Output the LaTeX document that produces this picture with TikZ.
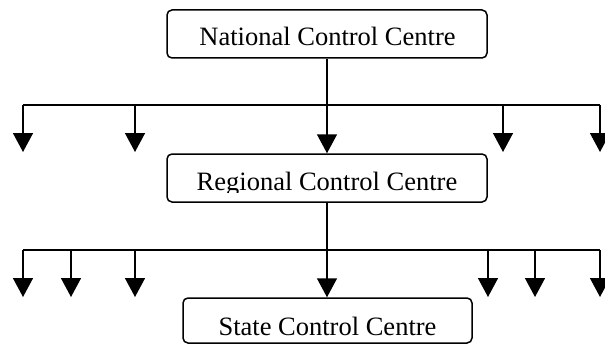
\documentclass[tikz,border=0pt]{standalone}
\usepackage{fontspec}
\setmainfont{Liberation Serif}
\usetikzlibrary{arrows.meta}
\tikzset{
  centrebox/.style={draw, line width=1.5pt, rounded corners=5pt, inner sep=0pt},
  centretext/.style={anchor=base, inner sep=0pt, font=\fontsize{26.5}{31}\selectfont},
  feed/.style={line width=1.5pt},
  down/.style={feed, -{Triangle[width=20pt,length=19pt]}}
}
\begin{document}
\begin{tikzpicture}[x=1pt,y=-1pt]
  \useasboundingbox (0,0) rectangle (605,345);
  \clip (0,0) rectangle (605,345);

  % the three control centres
  \node[centrebox, minimum width=320pt, minimum height=48pt] (ncc) at (327,34) {};
  \node[centretext] (ncctext) at (327.5,45.5) {National Control Centre};

  \node[centrebox, minimum width=320pt, minimum height=48pt] (rcc) at (327,178) {};
  \begin{scope}
    \clip (170,157) rectangle (484,192);
    \node[centretext] (rcctext) at (327,190) {Regional Control Centre};
  \end{scope}

  \node[centrebox, minimum width=289pt, minimum height=45pt] (scc) at (327.5,320.5) {};
  \node[centretext] (scctext) at (327.5,335) {State Control Centre};

  % upper distribution bus
  \coordinate (b1) at (327,105);
  \coordinate (b1l) at (23,105);
  \coordinate (b1r) at (600,105);
  \draw[feed] (ncc.south -| b1) -- (b1);
  \draw[feed] (b1l) -- (b1r);
  \foreach \x [count=\i] in {23,135,503,600} {
    \coordinate (u\i) at (\x,105);
    \coordinate (ut\i) at (\x,152);
    \draw[down] (u\i) -- (ut\i);
  }
  \draw[down] (b1) -- (rcc.north -| b1);

  % lower distribution bus
  \coordinate (b2) at (327,250);
  \coordinate (b2l) at (23,250);
  \coordinate (b2r) at (600,250);
  \draw[feed] (rcc.south -| b2) -- (b2);
  \draw[feed] (b2l) -- (b2r);
  \foreach \x [count=\i] in {23,71,135,488,535,600} {
    \coordinate (l\i) at (\x,250);
    \coordinate (lt\i) at (\x,297);
    \draw[down] (l\i) -- (lt\i);
  }
  \draw[down] (b2) -- (scc.north -| b2);
\end{tikzpicture}
\end{document}
